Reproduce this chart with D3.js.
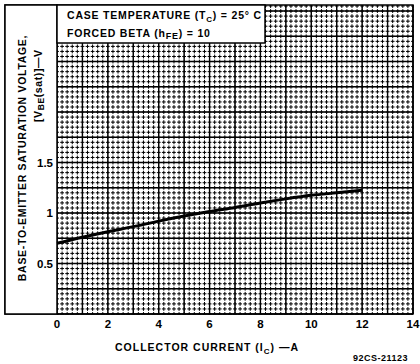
<!DOCTYPE html>
<html>
<head>
<meta charset="utf-8">
<script src="https://cdn.jsdelivr.net/npm/d3@7"></script>
<style>
  body { margin: 0; background: #fff; }
  text { font-family: "Liberation Sans", Arial, sans-serif; font-weight: bold; fill: #000; }
</style>
</head>
<body>
<div id="graphic"></div>
<script>
// collector current (A) and VBE(sat) (V)
var current = [0, 1, 2, 3, 4, 5, 6, 7, 8, 9, 10, 11, 12];
var vbe = [0.70, 0.76, 0.815, 0.865, 0.92, 0.97, 1.015, 1.055, 1.10, 1.14, 1.175, 1.20, 1.225];
var xTicks = [0, 2, 4, 6, 8, 10, 12, 14];
var yTicks = [0.5, 1, 1.5];
var yTickText = ["0.5", "1", "1.5"];

var width = 420, height = 364;
var plotL = 57, plotR = 413, plotT = 5, plotB = 314;

var svg = d3.select("#graphic").append("svg")
        .attr("width", width)
        .attr("height", height);

var x = d3.scaleLinear().domain([0, 14]).range([plotL, plotR]);
var y = d3.scaleLinear().domain([0, 3.06]).range([plotB, plotT]);

// grid: fine broken lines, heavier lines every 1 A / 0.25 V
var grid = svg.append("g");
var minorX = d3.range(0, 14.01, 0.2);
var minorY = d3.range(0, 3.06, 0.05);
var stepY = y(0) - y(0.05), stepX = x(0.2) - x(0);
grid.selectAll(".mx").data(minorX).enter().append("line")
        .attr("x1", d => x(d)).attr("x2", d => x(d))
        .attr("y1", plotB).attr("y2", plotT)
        .style("stroke", "#000").style("stroke-width", 1)
        .style("stroke-dasharray", "3.8," + (stepY - 3.8))
        .style("stroke-dashoffset", 1.9);
grid.selectAll(".my").data(minorY).enter().append("line")
        .attr("x1", plotL).attr("x2", plotR)
        .attr("y1", d => y(d)).attr("y2", d => y(d))
        .style("stroke", "#000").style("stroke-width", 1)
        .style("stroke-dasharray", "3.8," + (stepX - 3.8))
        .style("stroke-dashoffset", 1.9);
grid.selectAll(".Mx").data(d3.range(0, 14.01, 1)).enter().append("line")
        .attr("x1", d => x(d)).attr("x2", d => x(d))
        .attr("y1", plotT).attr("y2", plotB)
        .style("stroke", "#000").style("stroke-width", 1.4);
grid.selectAll(".My").data(d3.range(0, 3.01, 0.25)).enter().append("line")
        .attr("x1", plotL).attr("x2", plotR)
        .attr("y1", d => y(d)).attr("y2", d => y(d))
        .style("stroke", "#000").style("stroke-width", 1.4);

// frame
svg.append("rect")
        .attr("x", 5).attr("y", plotT)
        .attr("width", plotR - 5).attr("height", plotB - plotT)
        .style("fill", "none").style("stroke", "#000").style("stroke-width", 1.5);
svg.append("rect")
        .attr("x", 5).attr("y", plotT)
        .attr("width", plotL - 5).attr("height", plotB - plotT)
        .style("fill", "#fff").style("stroke", "#000").style("stroke-width", 1.5);

// curve
var line = d3.line()
        .x((d, i) => x(current[i]))
        .y(d => y(d))
        .curve(d3.curveMonotoneX);
svg.append("path")
        .datum(vbe)
        .attr("d", line)
        .style("fill", "none")
        .style("stroke", "#000")
        .style("stroke-width", 3);

// header box
svg.append("rect")
        .attr("x", plotL).attr("y", plotT)
        .attr("width", 208).attr("height", 38)
        .style("fill", "#fff").style("stroke", "#000").style("stroke-width", 1.5);
var h1 = svg.append("text").attr("x", 67).attr("y", 19)
        .style("font-size", "10.5px").style("letter-spacing", "0.8px");
h1.append("tspan").text("CASE TEMPERATURE (T");
h1.append("tspan").attr("dy", 3).style("font-size", "8px").text("C");
h1.append("tspan").attr("dy", -3).text(") = 25\u00B0 C");
var h2 = svg.append("text").attr("x", 67).attr("y", 37)
        .style("font-size", "10.5px").style("letter-spacing", "0.8px");
h2.append("tspan").text("FORCED BETA (h");
h2.append("tspan").attr("dy", 2).style("font-size", "9px").text("FE");
h2.append("tspan").attr("dy", -2).text(") = 10");

// x axis labels
svg.selectAll(".xt").data(xTicks).enter().append("text")
        .attr("x", d => x(d)).attr("y", 328)
        .attr("text-anchor", "middle")
        .style("font-size", "11.5px")
        .text(d => d);
var xt = svg.append("text").attr("x", 207).attr("y", 351)
        .attr("text-anchor", "middle")
        .style("font-size", "10.5px").style("letter-spacing", "1px");
xt.append("tspan").text("COLLECTOR CURRENT (I");
xt.append("tspan").attr("dy", 3).style("font-size", "8px").text("C");
xt.append("tspan").attr("dy", -3).text(") \u2014A");

svg.append("text").attr("x", 408).attr("y", 361)
        .attr("text-anchor", "end")
        .style("font-size", "9px").style("letter-spacing", "0.5px")
        .text("92CS-21123");

// y axis labels
svg.selectAll(".yt").data(yTicks).enter().append("text")
        .attr("x", 53).attr("y", d => y(d) + 4)
        .attr("text-anchor", "end")
        .style("font-size", "11.5px")
        .text((d, i) => yTickText[i]);
svg.append("text")
        .attr("transform", "translate(26,158) rotate(-90)")
        .attr("text-anchor", "middle")
        .style("font-size", "10.5px").style("letter-spacing", "0.7px")
        .text("BASE-TO-EMITTER SATURATION VOLTAGE,");
var yl2 = svg.append("text")
        .attr("transform", "translate(42,122) rotate(-90)")
        .style("font-size", "10.5px").style("letter-spacing", "0.6px");
yl2.append("tspan").text("[V");
yl2.append("tspan").attr("dy", 2).style("font-size", "8.5px").text("BE");
yl2.append("tspan").attr("dy", -2).text("(sat)]\u2014V");
</script>
</body>
</html>
